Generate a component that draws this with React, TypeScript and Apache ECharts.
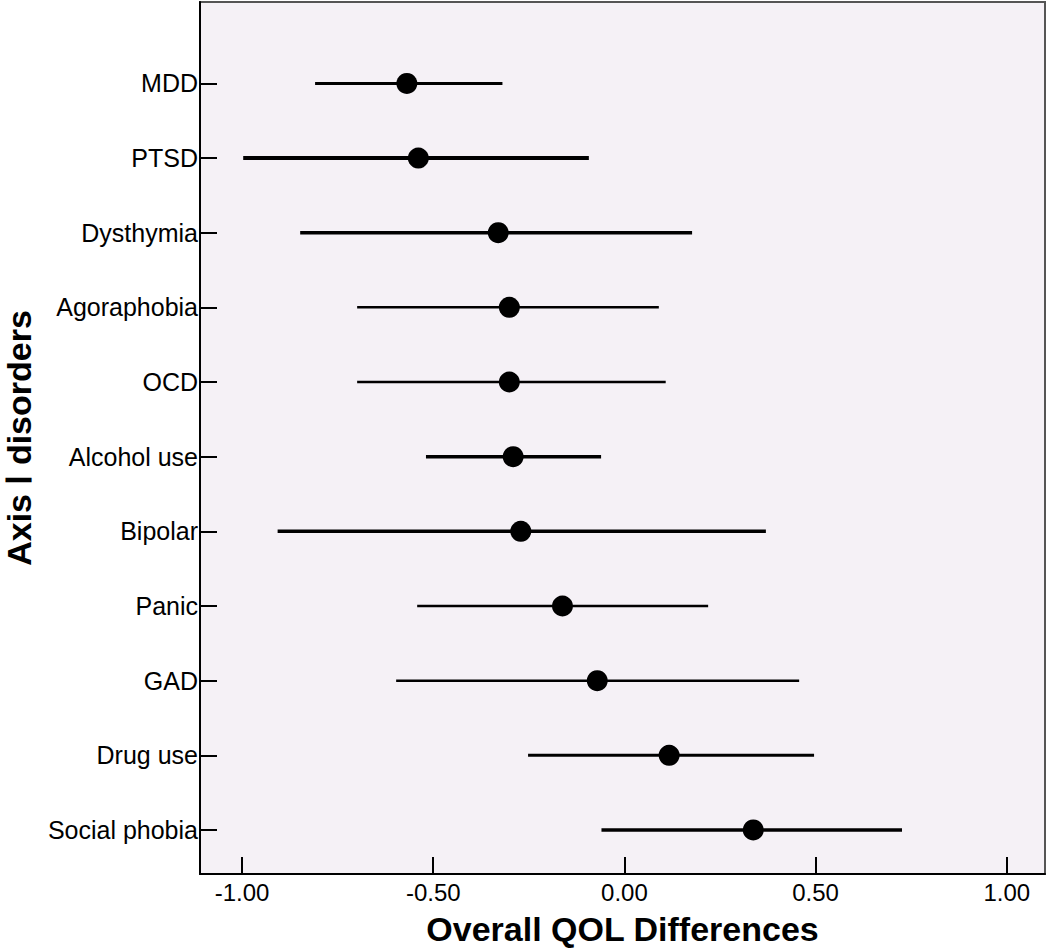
import React, { useEffect, useRef } from "react";
import * as echarts from "echarts";

const categories = [
  "MDD",
  "PTSD",
  "Dysthymia",
  "Agoraphobia",
  "OCD",
  "Alcohol use",
  "Bipolar",
  "Panic",
  "GAD",
  "Drug use",
  "Social phobia",
];
const pointEstimates = [-0.569, -0.539, -0.33, -0.301, -0.301, -0.291, -0.271, -0.162, -0.071, 0.117, 0.337];
const lowerCI = [-0.809, -0.997, -0.848, -0.699, -0.699, -0.519, -0.907, -0.542, -0.597, -0.252, -0.06];
const upperCI = [-0.319, -0.093, 0.177, 0.09, 0.108, -0.061, 0.37, 0.219, 0.457, 0.496, 0.726];
const xTickValues = [-1, -0.5, 0, 0.5, 1];

// style only
const lineWidths = [3, 4, 3.5, 2.5, 2.5, 3.5, 3.5, 2.5, 2.5, 3, 3.5];

export default function App() {
  const ref = useRef<HTMLDivElement>(null);
  useEffect(() => {
    if (!ref.current) return;
    const chart = echarts.init(ref.current, null, { renderer: "svg" });
    const idx = categories.map((_, i) => i);
    const ciData = idx.map((i) => [lowerCI[i], upperCI[i], i]);
    const ptData = idx.map((i) => [pointEstimates[i], i]);
    chart.setOption({
      animation: false,
      backgroundColor: "#ffffff",
      textStyle: { fontFamily: "Liberation Sans, Arial, sans-serif" },
      grid: {
        left: 200,
        right: 5,
        top: 2,
        bottom: 74,
        containLabel: false,
        outerBoundsMode: "none",
        show: true,
        backgroundColor: "#F5F1F6",
        borderColor: "#555555",
        borderWidth: 2,
      },
      xAxis: {
        type: "value",
        min: -1.11,
        max: 1.1,
        name: "Overall QOL Differences",
        nameLocation: "middle",
        nameGap: 37,
        nameTextStyle: {
          fontSize: 34,
          fontWeight: "bold",
          color: "#000",
          lineHeight: 36,
          fontFamily: "Liberation Sans, Arial, sans-serif",
        },
        axisLine: { show: true, onZero: false, lineStyle: { color: "#000", width: 2 } },
        axisTick: {
          show: true,
          inside: true,
          length: 17,
          customValues: xTickValues,
          lineStyle: { color: "#000", width: 2 },
        },
        axisLabel: {
          customValues: xTickValues,
          formatter: (v: number) => v.toFixed(2),
          fontSize: 24,
          color: "#000",
          margin: 6,
        },
        splitLine: { show: false },
      },
      yAxis: {
        type: "value",
        inverse: true,
        min: -1.09,
        max: 10.59,
        name: "Axis Ⅰ disorders",
        nameLocation: "middle",
        nameGap: 160,
        nameRotate: 90,
        nameTextStyle: {
          fontSize: 34,
          fontWeight: "bold",
          color: "#000",
          lineHeight: 36,
          fontFamily: "Liberation Sans, Arial, sans-serif",
        },
        axisLine: { show: true, onZero: false, lineStyle: { color: "#000", width: 2 } },
        axisTick: {
          show: true,
          inside: true,
          length: 17,
          customValues: idx,
          lineStyle: { color: "#000", width: 2 },
        },
        axisLabel: {
          customValues: idx,
          formatter: (v: number) => categories[Math.round(v)] ?? "",
          fontSize: 25,
          color: "#000",
          margin: 2,
        },
        splitLine: { show: false },
      },
      series: [
        {
          type: "custom",
          data: ciData,
          encode: { x: [0, 1], y: 2 },
          z: 3,
          renderItem: (params: any, api: any) => {
            const i = api.value(2);
            const a = api.coord([api.value(0), i]);
            const b = api.coord([api.value(1), i]);
            return {
              type: "line",
              shape: { x1: a[0], y1: a[1], x2: b[0], y2: b[1] },
              style: { stroke: "#000", lineWidth: lineWidths[i] ?? 3 },
            };
          },
        },
        {
          type: "scatter",
          data: ptData,
          symbol: "circle",
          symbolSize: 21,
          z: 4,
          itemStyle: { color: "#000", opacity: 1 },
        },
      ],
    });
    return () => chart.dispose();
  }, []);
  return (
    <div
      ref={ref}
      style={{ position: "fixed", left: 0, top: 0, width: 1050, height: 948 }}
    />
  );
}
